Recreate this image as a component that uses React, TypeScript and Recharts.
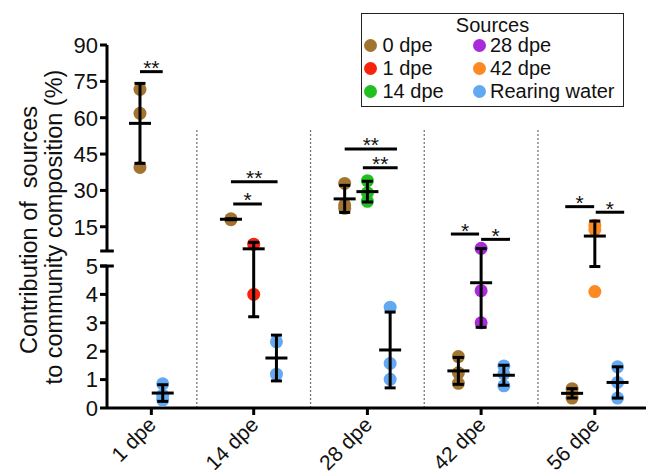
import React from 'react';
import { ScatterChart, Scatter, XAxis, YAxis, ErrorBar, ReferenceLine, Legend } from 'recharts';

const FONT = '"Liberation Sans", Arial, Helvetica, sans-serif';

const GROUPS = ['1 dpe', '14 dpe', '28 dpe', '42 dpe', '56 dpe'];
const SOURCES = ['0 dpe', '1 dpe', '14 dpe', '28 dpe', '42 dpe', 'Rearing water'];
const SOURCE_COLORS = ['#A2742F', '#F8230C', '#1FC01F', '#A72BD9', '#FB8A22', '#62A9F1'];

// sources sampled at each time point
const GROUP_SOURCES = [
  ['0 dpe', 'Rearing water'],
  ['0 dpe', '1 dpe', 'Rearing water'],
  ['0 dpe', '14 dpe', 'Rearing water'],
  ['0 dpe', '28 dpe', 'Rearing water'],
  ['0 dpe', '42 dpe', 'Rearing water'],
];

// replicate contributions (%), one list per source in GROUP_SOURCES order
const VALUES_1DPE = [[71.7, 61.8, 39.5], [0.85, 0.45, 0.28]];
const VALUES_14DPE = [[18.3, 18.1, 17.9], [7.8, 4.0], [2.33, 1.19]];
const VALUES_28DPE = [[32.9, 24.0, 22.6], [34.0, 29.0, 25.5], [3.55, 1.57, 1.01]];
const VALUES_42DPE = [[1.81, 1.24, 0.87], [6.1, 4.13, 3.0], [1.48, 1.2, 0.78]];
const VALUES_56DPE = [[0.68, 0.52, 0.35], [15.6, 13.8, 4.1], [1.45, 0.9, 0.35]];
const GROUP_VALUES = [VALUES_1DPE, VALUES_14DPE, VALUES_28DPE, VALUES_42DPE, VALUES_56DPE];

const Y_TICKS_LOW = [0, 1, 2, 3, 4, 5];
const Y_TICKS_HIGH = [15, 30, 45, 60, 75, 90];

// significance bars: group, start/end (in slots from the group's first point), height, label
const BRACKET_GROUP = [0, 1, 1, 2, 2, 3, 3, 4, 4];
const BRACKET_FROM = [0, 0, 0.1, 0, 0.8, -0.33, 1.0, -0.3, 1.04];
const BRACKET_TO = [1, 2.05, 1.36, 2.3, 2.33, 0.91, 2.27, 0.97, 2.29];
const BRACKET_Y = [79, 33.6, 24.4, 47.1, 39.4, 12.0, 9.8, 23.3, 21.0];
const BRACKET_LABEL = ['**', '**', '*', '**', '**', '*', '*', '*', '*'];

// broken y axis: 0-5 in the lower segment, 5-90 in the upper one
const LOW_MAX = 5;
const HIGH_MAX = 90;
const LOW_SPAN = 142;
const GAP = 15;
const HIGH_SPAN = 206;
const Y_SPAN = LOW_SPAN + GAP + HIGH_SPAN;
const toAxis = (v: number) =>
  v <= LOW_MAX ? (v * LOW_SPAN) / LOW_MAX : LOW_SPAN + GAP + ((v - LOW_MAX) * HIGH_SPAN) / (HIGH_MAX - LOW_MAX);
const fromAxis = (t: number) =>
  t <= LOW_SPAN ? (t * LOW_MAX) / LOW_SPAN : LOW_MAX + ((t - LOW_SPAN - GAP) * (HIGH_MAX - LOW_MAX)) / HIGH_SPAN;

const X_MAX = 23.7;

// lay the groups out one after another with a gap between them
const slotX: number[][] = [];
let cursor = 1.45;
GROUP_SOURCES.forEach((srcs) => {
  slotX.push(srcs.map((_, i) => cursor + i));
  cursor += srcs.length + 2;
});
const tickCenters = slotX.map((xs) => (xs[0] + xs[xs.length - 1]) / 2);
const separators = slotX.slice(0, -1).map((xs) => xs[xs.length - 1] + 1.5);

const mean = (a: number[]) => a.reduce((s, v) => s + v, 0) / a.length;
const sd = (a: number[]) => {
  const m = mean(a);
  return Math.sqrt(a.reduce((s, v) => s + (v - m) * (v - m), 0) / (a.length - 1));
};

const pointsBySource = SOURCES.map((src) => {
  const out: { x: number; y: number }[] = [];
  GROUP_SOURCES.forEach((srcs, g) => {
    const i = srcs.indexOf(src);
    if (i < 0) return;
    GROUP_VALUES[g][i].forEach((v) => out.push({ x: slotX[g][i], y: toAxis(v) }));
  });
  return out;
});

const summary: { x: number; y: number; err: number[] }[] = [];
GROUP_SOURCES.forEach((srcs, g) => {
  srcs.forEach((_, i) => {
    const vals = GROUP_VALUES[g][i];
    const m = mean(vals);
    const s = sd(vals);
    const ym = toAxis(m);
    summary.push({ x: slotX[g][i], y: ym, err: [ym - toAxis(m - s), toAxis(m + s) - ym] });
  });
});

const yTicks = [...Y_TICKS_LOW, ...Y_TICKS_HIGH].map(toAxis);

const XTick = (props: any) => {
  const { x, y, payload } = props;
  const idx = tickCenters.findIndex((c) => Math.abs(c - payload.value) < 1e-6);
  const tx = x + 6;
  const ty = y + 9;
  return (
    <text x={tx} y={ty} transform={`rotate(-45, ${tx}, ${ty})`} textAnchor="end" fontSize={21} fontFamily={FONT} fill="#111">
      {GROUPS[idx]}
    </text>
  );
};

const YLabel = () => (
  <g fontFamily={FONT} fontSize={23.5} fill="#111" style={{ whiteSpace: 'pre' }}>
    <text transform="translate(37,230) rotate(-90)" textAnchor="middle" xmlSpace="preserve">
      Contribution of  sources
    </text>
    <text transform="translate(62,227) rotate(-90)" textAnchor="middle">
      to community composition (%)
    </text>
  </g>
);

const SourcesLegend = () => (
  <div
    style={{
      position: 'relative',
      width: 263,
      height: 94,
      border: '1.5px solid #222',
      boxSizing: 'border-box',
      fontFamily: FONT,
      fontSize: 20,
      color: '#111',
      background: '#fff',
    }}
  >
    <div style={{ position: 'absolute', top: 0, left: 0, right: 0, textAlign: 'center', lineHeight: '22px' }}>Sources</div>
    {SOURCES.map((src, i) => (
      <div
        key={src}
        style={{
          position: 'absolute',
          left: i < 3 ? 1.5 : 111,
          top: 20 + (i % 3) * 23,
          lineHeight: '23px',
          display: 'flex',
          alignItems: 'center',
          whiteSpace: 'nowrap',
        }}
      >
        <span style={{ width: 13, height: 13, borderRadius: '50%', background: SOURCE_COLORS[i], marginRight: i < 3 ? 6 : 4 }} />
        {src}
      </div>
    ))}
  </div>
);

const Dot = (color: string) => (props: any) => <circle cx={props.cx} cy={props.cy} r={6.5} fill={color} />;

const MeanLine = (props: any) => (
  <line x1={props.cx - 11} x2={props.cx + 11} y1={props.cy} y2={props.cy} stroke="#000" strokeWidth={3} />
);

const axisStroke = { stroke: '#000', strokeWidth: 3 };

export default function App() {
  return (
    <div style={{ position: 'absolute', left: 0, top: 0, width: 646, height: 475, background: '#fff' }}>
      <ScatterChart width={646} height={475} margin={{ top: 45, right: 0, bottom: 7, left: 37 }}>
        <XAxis
          type="number"
          dataKey="x"
          domain={[0, X_MAX]}
          ticks={tickCenters}
          interval={0}
          height={60}
          axisLine={axisStroke}
          tickLine={axisStroke}
          tickSize={7}
          tick={<XTick />}
          allowDataOverflow
        />
        <YAxis
          type="number"
          dataKey="y"
          domain={[0, Y_SPAN]}
          ticks={yTicks}
          interval={0}
          width={70}
          axisLine={false}
          tickLine={axisStroke}
          tickSize={7}
          tick={{ fontSize: 22, fill: '#111', fontFamily: FONT }}
          tickFormatter={(t: number) => String(Math.round(fromAxis(t)))}
          label={() => <YLabel />}
          allowDataOverflow
        />
        {separators.map((sx) => (
          <ReferenceLine
            key={`sep-${sx}`}
            segment={[{ x: sx, y: 0 }, { x: sx, y: 280 }]}
            stroke="#777"
            strokeWidth={1.3}
            strokeDasharray="2 2"
          />
        ))}
        <ReferenceLine segment={[{ x: 0, y: 0 }, { x: 0, y: LOW_SPAN }]} stroke="#000" strokeWidth={3} ifOverflow="visible" />
        <ReferenceLine segment={[{ x: 0, y: LOW_SPAN + GAP }, { x: 0, y: Y_SPAN }]} stroke="#000" strokeWidth={3} ifOverflow="visible" />
        <ReferenceLine segment={[{ x: -0.3, y: LOW_SPAN }, { x: 0.3, y: LOW_SPAN }]} stroke="#000" strokeWidth={3} ifOverflow="visible" />
        <ReferenceLine segment={[{ x: -0.3, y: LOW_SPAN + GAP }, { x: 0.3, y: LOW_SPAN + GAP }]} stroke="#000" strokeWidth={3} ifOverflow="visible" />
        {SOURCES.map((src, i) => (
          <Scatter key={src} name={src} data={pointsBySource[i]} fill={SOURCE_COLORS[i]} shape={Dot(SOURCE_COLORS[i])} isAnimationActive={false} />
        ))}
        <Scatter name="mean" data={summary} shape={MeanLine} legendType="none" isAnimationActive={false} {...({ zIndex: 2000 } as any)}>
          <ErrorBar dataKey="err" direction="y" width={5.5} stroke="#000" strokeWidth={3} {...({ zIndex: 2000 } as any)} />
        </Scatter>
        {BRACKET_GROUP.map((g, k) => {
          const x0 = slotX[g][0];
          return (
            <ReferenceLine
              key={`br-${k}`}
              segment={[{ x: x0 + BRACKET_FROM[k], y: toAxis(BRACKET_Y[k]) }, { x: x0 + BRACKET_TO[k], y: toAxis(BRACKET_Y[k]) }]}
              stroke="#000"
              strokeWidth={3}
              ifOverflow="visible"
              label={(p: any) => (
                <text
                  x={p.viewBox.x + p.viewBox.width / 2}
                  y={p.viewBox.y + 3.5}
                  textAnchor="middle"
                  fontSize={21}
                  fontFamily={FONT}
                  fill="#111"
                >
                  {BRACKET_LABEL[k]}
                </text>
              )}
            />
          );
        })}
        <Legend
          layout="horizontal"
          verticalAlign="middle"
          align="center"
          wrapperStyle={{ position: 'absolute', left: 361, top: 13, width: 263, height: 94 }}
          content={() => <SourcesLegend />}
        />
      </ScatterChart>
    </div>
  );
}
